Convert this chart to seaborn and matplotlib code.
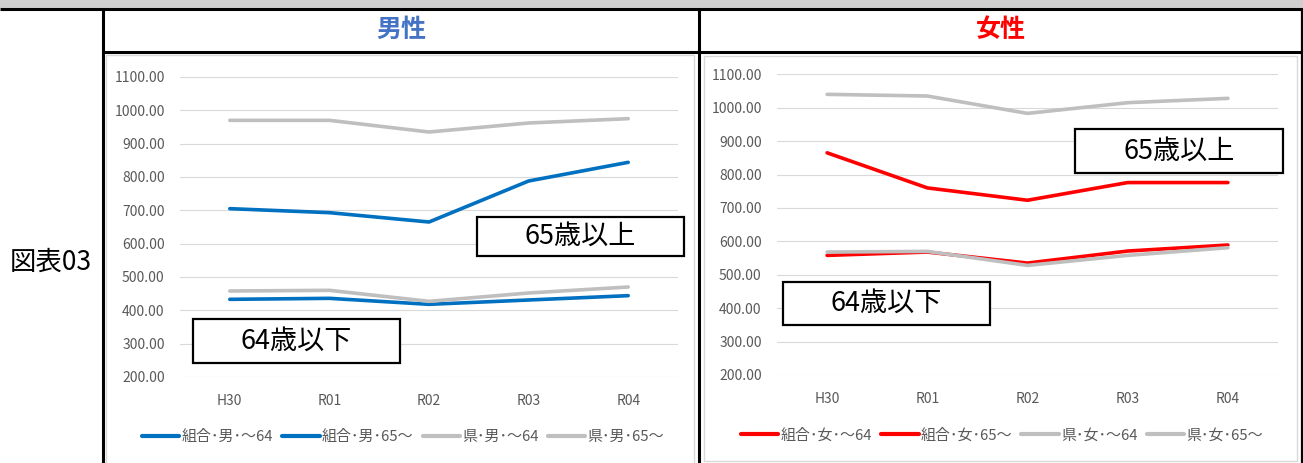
import numpy as np
import pandas as pd
import matplotlib
matplotlib.use("Agg")
import matplotlib.pyplot as plt
from matplotlib.patches import Rectangle
import seaborn as sns

# ---- data -------------------------------------------------------------
years = ["H30", "R01", "R02", "R03", "R04"]

male_series = ["組合･男･～64", "組合･男･65～", "県･男･～64", "県･男･65～"]
male_union_u64 = [433, 436, 418, 431, 444]
male_union_65 = [705, 693, 665, 788, 844]
male_pref_u64 = [458, 460, 427, 452, 470]
male_pref_65 = [970, 970, 935, 962, 975]

female_series = ["組合･女･～64", "組合･女･65～", "県･女･～64", "県･女･65～"]
female_union_u64 = [558, 568, 535, 571, 589]
female_union_65 = [865, 760, 723, 776, 776]
female_pref_u64 = [568, 570, 528, 558, 581]
female_pref_65 = [1040, 1035, 983, 1015, 1028]

y_ticks = [200, 300, 400, 500, 600, 700, 800, 900, 1000, 1100]

BLUE = "#0070C0"
RED = "#FF0000"
GRAY = "#BFBFBF"
TICK_COLOR = "#595959"

sns.set_theme(style="white")
plt.rcParams["font.family"] = ["Noto Sans CJK JP", "DejaVu Sans"]

W, H = 1303, 463
fig = plt.figure(figsize=(W / 100, H / 100), dpi=100)

# ---- frame of the table (pixel coordinates) ---------------------------
bg = fig.add_axes([0, 0, 1, 1])
bg.set_xlim(0, W)
bg.set_ylim(H, 0)
bg.axis("off")
bg.add_patch(Rectangle((0, 0), W, 8, color="#CFCFCF", lw=0))
lw_frame = 2.2
bg.plot([0, W], [9, 9], color="black", lw=lw_frame, solid_capstyle="butt")
bg.plot([103, 103], [9, H], color="black", lw=lw_frame, solid_capstyle="butt")
bg.plot([103, W], [52, 52], color="black", lw=lw_frame, solid_capstyle="butt")
bg.plot([698.5, 698.5], [9, H], color="black", lw=lw_frame, solid_capstyle="butt")
bg.plot([1301.5, 1301.5], [9, H], color="black", lw=1.6, solid_capstyle="butt")
# chart-area outlines
bg.add_patch(Rectangle((106, 55), 588, 410, fill=False, ec="#D9D9D9", lw=1.0))
bg.add_patch(Rectangle((704, 56), 593, 405, fill=False, ec="#D9D9D9", lw=1.0))

bg.text(51, 262, "図表03", ha="center", va="center", fontsize=19, color="black")
bg.text(401, 30, "男性", ha="center", va="center", fontsize=18,
        fontweight="bold", color="#4472C4")
bg.text(1001, 30, "女性", ha="center", va="center", fontsize=18,
        fontweight="bold", color=RED)


def build_frame(names, values):
    rows = []
    for name, vals in zip(names, values):
        for yr, v in zip(years, vals):
            rows.append({"year": yr, "value": v, "series": name})
    return pd.DataFrame(rows)


def draw_panel(rect, names, values, palette, boxes, legend_x):
    ax = fig.add_axes(rect)
    df = build_frame(names, values)
    sns.lineplot(data=df, x="year", y="value", hue="series",
                 hue_order=names, palette=palette, linewidth=2.6,
                 sort=False, ax=ax, legend=False)
    ax.set_xlim(-0.5, len(years) - 0.5)
    ax.set_ylim(min(y_ticks), max(y_ticks))
    ax.set_yticks(y_ticks)
    ax.set_yticklabels([f"{t:.2f}" for t in y_ticks])
    ax.set_xlabel("")
    ax.set_ylabel("")
    for s in ax.spines.values():
        s.set_visible(False)
    ax.grid(axis="y", color="#D9D9D9", lw=0.8)
    ax.grid(axis="x", visible=False)
    ax.set_axisbelow(True)
    ax.tick_params(axis="y", length=0, pad=11, labelsize=10,
                   labelcolor=TICK_COLOR)
    ax.tick_params(axis="x", length=0, pad=12, labelsize=10,
                   labelcolor=TICK_COLOR)

    handles = [plt.Line2D([], [], color=palette[n], lw=3) for n in names]
    ax.legend(handles, names, loc="center", bbox_to_anchor=(legend_x, -0.2),
              ncol=4, frameon=False, fontsize=10.8, handlelength=2.5,
              handletextpad=0.15, columnspacing=0.6, labelcolor=TICK_COLOR)

    for (x0, y0, x1, y1, label) in boxes:
        ax.add_patch(Rectangle((x0, y0), x1 - x0, y1 - y0,
                               transform=ax.transAxes, fill=True,
                               fc="white", ec="black", lw=1.6,
                               clip_on=False, zorder=5))
        ax.text((x0 + x1) / 2, (y0 + y1) / 2, label, transform=ax.transAxes,
                ha="center", va="center", fontsize=19.5, color="black",
                zorder=6, clip_on=False)
    return ax


male_palette = dict(zip(male_series, [BLUE, BLUE, GRAY, GRAY]))
female_palette = dict(zip(female_series, [RED, RED, GRAY, GRAY]))

draw_panel([180 / W, (H - 377) / H, 498 / W, 300 / H],
           male_series,
           [male_union_u64, male_union_65, male_pref_u64, male_pref_65],
           male_palette,
           [(0.596, 0.403, 1.012, 0.533, "65歳以上"),
            (0.026, 0.047, 0.442, 0.193, "64歳以下")],
           0.448)

draw_panel([777 / W, (H - 375) / H, 501 / W, 300.7 / H],
           female_series,
           [female_union_u64, female_union_65, female_pref_u64, female_pref_65],
           female_palette,
           [(0.595, 0.672, 1.010, 0.818, "65歳以上"),
            (0.012, 0.166, 0.425, 0.309, "64歳以下")],
           0.449)

fig.savefig("out.png", dpi=100, facecolor="white")
